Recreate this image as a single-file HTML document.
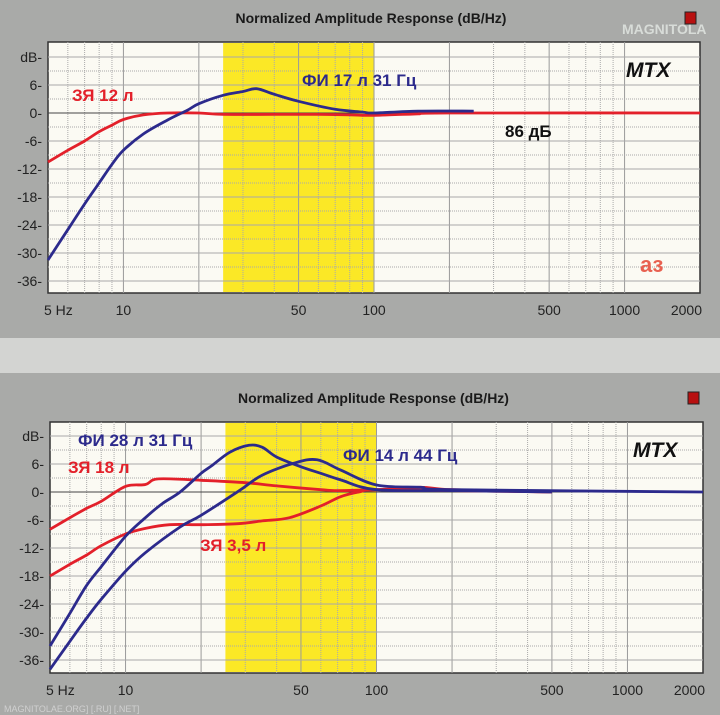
<!DOCTYPE html>
<html><head><meta charset="utf-8">
<style>
html,body{margin:0;padding:0;background:#a9aaa8;}
svg{display:block;font-family:"Liberation Sans","DejaVu Sans",sans-serif;}
</style></head>
<body>
<svg id="s" width="720" height="715" viewBox="0 0 720 715" xmlns="http://www.w3.org/2000/svg">
<rect x="0" y="0" width="720" height="715" fill="#a9aaa8"/>
<rect x="0" y="338" width="720" height="35" fill="#d3d4d2"/>
</svg>
<script>
// ---- data ----
const xTickValues = [5,10,50,100,500,1000,2000];
const xTickLabels = ["5 Hz","10","50","100","500","1000","2000"];
const yTickValues = [12,6,0,-6,-12,-18,-24,-30,-36];
const yTickLabels = ["dB","6","0","-6","-12","-18","-24","-30","-36"];
const bandRange = [25,100];

const topRedFreq = [5,6,7,8,9,10,12,15,20,25,40,60,80,90,100,130,150,200,2000];
const topRedDb   = [-10.5,-8,-6,-4,-2.6,-1.4,-0.4,0,0,-0.3,-0.3,-0.3,-0.4,-0.5,-0.5,-0.3,-0.2,0,0];
const topBlueFreq = [5,6,7,8,9,10,12,15,18,20,25,30,34,40,50,70,90,100,150,250];
const topBlueDb   = [-31.5,-25,-19.5,-15,-11,-8,-4.5,-1.5,0.6,2,3.8,4.6,5.2,4,2.5,0.8,0.2,0,0.4,0.4];

const botRed18Freq = [5,6,7,8,10,12,13.5,20,30,40,60,70,100,150,200,500];
const botRed18Db   = [-8,-5.5,-3.5,-2,1.2,1.6,2.8,2.5,2,1.3,0.5,0.3,0.5,1,0.5,0];
const botRed35Freq = [5,6,7,8,10,12,15,20,28,35,45,60,72,85,100,200,500];
const botRed35Db   = [-18,-15.5,-13.5,-11.5,-9,-7.8,-7,-7,-6.8,-6.2,-5.5,-3,-1,0,0.5,0.3,0];
const botBlue28Freq = [5,6,7,8,10,12,14,16.5,20,22,26,31,35,40,50,60,72,100,200,500];
const botBlue28Db   = [-33,-26,-20,-16,-9.5,-5.5,-2.5,0,4,5.6,8.5,10,9.6,7.5,5.4,4,2.6,0.5,0.3,0];
const botBlue14Freq = [5,6,7,8,10,12,16.5,20,28.6,35,47,58,72,100,150,200,2000];
const botBlue14Db   = [-38,-32,-27,-23,-17,-13,-7.5,-5,0.4,3.6,6.2,6.9,4.7,1.5,1,0.5,0];

const NS="http://www.w3.org/2000/svg";
const svg=document.getElementById('s');
function mk(tag,attrs,parent){const e=document.createElementNS(NS,tag);for(const k in attrs)e.setAttribute(k,attrs[k]);(parent||svg).appendChild(e);return e;}
function smoothPath(pts){
  let d='M'+pts[0][0].toFixed(1)+','+pts[0][1].toFixed(1);
  for(let i=0;i<pts.length-1;i++){
    const p0=pts[i-1]||pts[i],p1=pts[i],p2=pts[i+1],p3=pts[i+2]||pts[i+1];
    const c1=[p1[0]+(p2[0]-p0[0])/6,p1[1]+(p2[1]-p0[1])/6];
    const c2=[p2[0]-(p3[0]-p1[0])/6,p2[1]-(p3[1]-p1[1])/6];
    d+=' C'+c1[0].toFixed(1)+','+c1[1].toFixed(1)+' '+c2[0].toFixed(1)+','+c2[1].toFixed(1)+' '+p2[0].toFixed(1)+','+p2[1].toFixed(1);
  }
  return d;
}

function chart(cfg){
  const L=cfg.left,R=cfg.right,T=cfg.top,B=cfg.bottom,y0=cfg.zeroY,ps=cfg.px6;
  const g=mk('g',{});
  
  
  const xs=f=>L+Math.log10(f/5)/Math.log10(400)*(R-L);
  const ys=d=>y0-d/6*ps;
  const title=mk('text',{x:(L+R)/2-3,y:T-19,'text-anchor':'middle','font-size':14,'font-weight':'bold',fill:'#1a1a1a'},g);
  title.textContent='Normalized Amplitude Response (dB/Hz)';
  
  
  const icon=mk('rect',{x:R-15,y:T-30,width:11,height:12,fill:'#b81010',stroke:'#222'},g);
  
  
  const plot=mk('rect',{x:L,y:T,width:R-L,height:B-T,fill:'#fbfaf3',stroke:'#333','stroke-width':1.5},g);
  
  
  const band=mk('rect',{x:xs(bandRange[0]),y:T+1,width:xs(bandRange[1])-xs(bandRange[0]),height:B-T-2,fill:'#fbe826'},g);
  
  
  const vf=[6,7,8,9,10,20,30,40,50,60,70,80,90,100,200,300,400,500,600,700,800,900,1000];
  vf.forEach(f=>{const major=[10,20,50,100,200,500,1000].includes(f);
    const l=mk('line',{x1:xs(f),x2:xs(f),y1:T,y2:B,stroke:major?'#9a9a9a':'#aaaaaa','stroke-width':1,'stroke-dasharray':major?'':'1,1'},g);
    
    });
  for(let d=15;d>=-39;d-=3){const y=ys(d);if(y<=T+1||y>=B-1)continue;
    const l=mk('line',{x1:L,x2:R,y1:y,y2:y,stroke:d===0?'#444':'#a8a8a8','stroke-width':1,'stroke-dasharray':(d%6===0)?'':'1,1'},g);
    
    }
  yTickValues.forEach((v,i)=>{const t=mk('text',{x:L-6,y:ys(v)+5,'text-anchor':'end','font-size':14,fill:'#222'},g);t.textContent=yTickLabels[i]+'-';
    
    });
  xTickValues.forEach((v,i)=>{const x=xs(v);const anchor=i===0?'start':(i===xTickValues.length-1?'end':'middle');
    const t=mk('text',{x:i===0?x-4:(i===xTickValues.length-1?x+2:x),y:B+22,'text-anchor':anchor,'font-size':14,fill:'#222'},g);t.textContent=xTickLabels[i];
    
    });
  cfg.series.forEach(s=>{
    const pts=s.f.map((f,i)=>[xs(f),ys(s.v[i])]);
    const p=mk('path',{d:smoothPath(pts),fill:'none',stroke:s.c,'stroke-width':2.8,'stroke-linejoin':'round'},g);
    
    });
  cfg.labels.forEach(lb=>{const t=mk('text',{x:lb.x,y:lb.y,'font-size':lb.s||17,'font-weight':'bold','font-style':lb.i?'italic':'normal',fill:lb.c},g);t.textContent=lb.t;
    
    });
}

chart({name:'top-chart',left:48,right:700,top:42,bottom:293,zeroY:113,px6:28,
  series:[{f:topRedFreq,v:topRedDb,c:'#e3202a',n:'series-closed-box-12l'},{f:topBlueFreq,v:topBlueDb,c:'#2c2a8c',n:'series-ported-17l'}],
  labels:[{t:'ЗЯ 12 л',x:72,y:101,c:'#e3202a',n:'label-closed-12l'},{t:'ФИ 17 л 31 Гц',x:302,y:86,c:'#2c2a8c',n:'label-ported-17l'},
    {t:'86 дБ',x:505,y:137,c:'#111',n:'label-86db'},{t:'MTX',x:626,y:77,c:'#111',i:true,s:21,n:'brand-label'},{t:'аз',x:640,y:272,c:'#e86050',s:22,n:'az-logo'}]});
chart({name:'bottom-chart',left:50,right:703,top:422,bottom:673,zeroY:492,px6:28,
  series:[{f:botRed18Freq,v:botRed18Db,c:'#e3202a',n:'series-closed-box-18l'},{f:botRed35Freq,v:botRed35Db,c:'#e3202a',n:'series-closed-box-3-5l'},
    {f:botBlue28Freq,v:botBlue28Db,c:'#2c2a8c',n:'series-ported-28l'},{f:botBlue14Freq,v:botBlue14Db,c:'#2c2a8c',n:'series-ported-14l'}],
  labels:[{t:'ФИ 28 л 31 Гц',x:78,y:446,c:'#2c2a8c',n:'label-ported-28l'},{t:'ЗЯ 18 л',x:68,y:473,c:'#e3202a',n:'label-closed-18l'},
    {t:'ЗЯ 3,5 л',x:200,y:551,c:'#e3202a',n:'label-closed-3-5l'},{t:'ФИ 14 л 44 Гц',x:343,y:461,c:'#2c2a8c',n:'label-ported-14l'},
    {t:'MTX',x:633,y:457,c:'#111',i:true,s:21,n:'brand-label'}]});
const wm=mk('text',{x:4,y:712,'font-size':9,fill:'#d0d0d0'});
wm.textContent='MAGNITOLAE.ORG] [.RU] [.NET]';


const lg=mk('text',{x:622,y:34,'font-size':14,'font-weight':'bold',fill:'#d8dcd8'});
lg.textContent='MAGNITOLA';


</script>
</body></html>
